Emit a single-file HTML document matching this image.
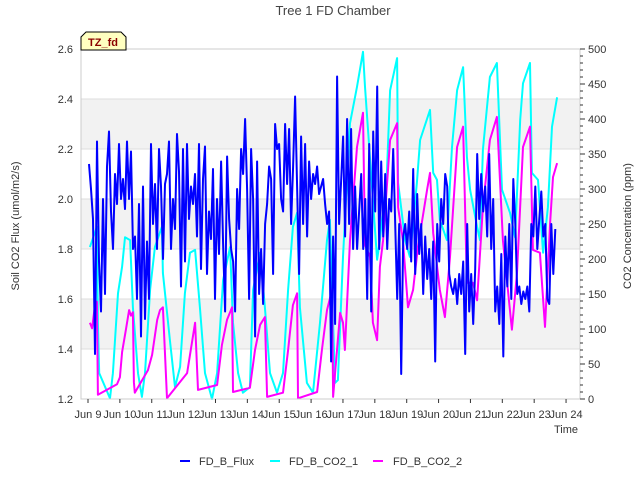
<!DOCTYPE html>
<html><head><meta charset="utf-8">
<style>
html,body{margin:0;padding:0;background:#fff;}
svg{display:block;font-family:"Liberation Sans","DejaVu Sans",sans-serif;}
</style></head>
<body>
<svg id="chart" width="640" height="480" viewBox="0 0 640 480" xmlns="http://www.w3.org/2000/svg">
  <rect x="0" y="0" width="640" height="480" fill="#fff"/>
  <text x="333" y="15" text-anchor="middle" font-size="13" fill="#444">Tree 1 FD Chamber</text>
  <g id="bands"></g>
  <g id="grid"></g>
  <g id="series"></g>
  <rect x="81" y="49" width="499" height="350" fill="none" stroke="#ccc" stroke-width="1"/>
  <g id="axes"></g>
  <text transform="translate(19,226) rotate(-90)" text-anchor="middle" font-size="11" fill="#333">Soil CO2 Flux (umol/m2/s)</text>
  <text transform="translate(631,226) rotate(-90)" text-anchor="middle" font-size="11" fill="#333">CO2 Concentration (ppm)</text>
  <text x="566" y="433" text-anchor="middle" font-size="11" fill="#333">Time</text>
  <g>
    <path d="M81,50 L81,37 L86,32 L121,32 L126,37 L126,50 Z" fill="#ffffc0" stroke="#000" stroke-width="1"/>
    <text x="103" y="46" text-anchor="middle" font-size="11" font-weight="bold" fill="#8b0000">TZ_fd</text>
  </g>
  <g>
    <g>
      <line x1="180" y1="461" x2="190" y2="461" stroke="#0000ff" stroke-width="2"/>
      <text x="199" y="465" font-size="11" fill="#333">FD_B_Flux</text>
    </g>
    <g>
      <line x1="270" y1="461" x2="280" y2="461" stroke="#00ffff" stroke-width="2"/>
      <text x="289" y="465" font-size="11" fill="#333">FD_B_CO2_1</text>
    </g>
    <g>
      <line x1="373" y1="461" x2="383" y2="461" stroke="#ff00ff" stroke-width="2"/>
      <text x="393" y="465" font-size="11" fill="#333">FD_B_CO2_2</text>
    </g>
  </g>
</svg>
<script>
// ---- data ----
const xTickLabels = ["Jun 9","Jun 10","Jun 11","Jun 12","Jun 13","Jun 14","Jun 15","Jun 16","Jun 17","Jun 18","Jun 19","Jun 20","Jun 21","Jun 22","Jun 23","Jun 24"];
const leftTicks = [1.2,1.4,1.6,1.8,2.0,2.2,2.4,2.6];
const leftTickLabels = ["1.2","1.4","1.6","1.8","2.0","2.2","2.4","2.6"];
const rightTicks = [0,50,100,150,200,250,300,350,400,450,500];
const bandRanges = [[2.2,2.4],[1.8,2.0],[1.4,1.6]];
const fluxStartDay = 0.03;
const fluxStepDay = 0.0628;
const fluxValues = [2.14,2.04,1.92,1.38,2.23,1.75,1.55,2.0,1.62,2.13,2.27,1.95,1.80,2.10,1.98,2.22,2.0,2.08,1.96,2.23,2.0,2.19,1.80,1.85,1.60,1.98,1.45,2.05,1.52,1.83,1.60,2.22,1.90,2.06,1.80,2.20,2.05,1.76,2.06,2.10,2.23,1.80,2.00,1.88,2.26,2.11,1.65,2.20,1.75,2.22,1.92,2.05,1.98,2.10,1.85,2.22,1.72,2.08,2.21,1.70,1.95,1.84,2.12,1.60,2.00,1.78,2.15,1.82,1.55,2.17,1.92,1.80,1.75,1.55,2.04,1.88,2.20,2.10,2.32,2.04,1.60,2.20,2.0,1.45,2.15,1.62,1.80,1.58,1.90,1.98,2.13,2.08,1.70,2.30,2.20,2.22,2.0,1.95,2.30,2.06,2.28,1.90,2.13,2.41,2.05,1.70,2.25,1.90,2.22,1.85,2.15,2.00,2.10,2.06,2.13,2.02,2.05,2.08,1.98,1.90,1.95,1.35,1.85,1.50,2.49,1.90,2.07,2.25,1.85,2.32,1.90,2.28,1.80,2.05,1.80,1.95,2.10,1.80,2.00,1.60,2.22,1.55,2.27,1.95,2.45,1.80,2.15,1.85,2.10,1.80,2.00,1.95,2.20,1.90,1.60,1.90,1.30,1.85,1.90,1.80,1.95,1.75,2.12,1.70,2.02,1.78,1.90,1.62,1.85,1.68,1.80,1.60,1.83,1.35,1.90,1.75,2.00,1.90,2.10,2.05,1.70,1.65,1.62,1.68,1.58,1.70,1.62,1.75,1.38,1.90,1.55,1.70,1.50,1.72,2.18,1.92,2.10,1.95,2.05,1.85,2.18,1.80,2.00,1.55,1.65,1.50,1.78,1.37,1.85,1.65,1.90,1.60,2.08,1.90,1.62,1.65,1.58,1.63,1.60,1.65,1.55,1.90,1.85,2.05,1.80,1.92,2.03,1.85,1.90,1.60,1.58,1.90,1.70,1.88];
const co2aDays = [0.06,0.28,0.31,0.35,0.69,0.78,0.94,1.07,1.16,1.32,1.41,1.57,1.69,1.79,1.95,2.10,2.32,2.35,2.57,2.73,2.89,3.04,3.20,3.36,3.51,3.67,3.89,4.05,4.24,4.46,4.55,4.71,4.86,5.08,5.18,5.40,5.55,5.71,5.93,6.12,6.28,6.43,6.56,6.65,6.87,7.06,7.28,7.50,7.59,7.75,7.84,8.00,8.22,8.44,8.63,8.69,9.07,9.16,9.38,9.48,9.70,9.73,9.95,10.10,10.32,10.42,10.73,10.83,10.95,11.04,11.26,11.42,11.58,11.77,11.89,11.99,12.21,12.30,12.39,12.61,12.83,12.99,13.24,13.40,13.56,13.65,13.87,13.93,14.12,14.28,14.43,14.56,14.72];
const co2aValues = [217,246,109,37,1,37,151,189,231,227,131,37,3,37,156,217,246,180,84,17,46,151,209,213,131,37,0,37,170,217,109,37,9,17,156,209,131,37,9,37,156,246,266,131,23,9,109,227,256,23,27,203,394,446,496,446,199,227,323,441,487,309,227,203,309,370,413,323,313,256,227,360,441,474,346,299,246,227,356,460,480,299,266,231,399,451,480,323,313,209,274,389,431];
const co2bDays = [0.06,0.13,0.22,0.28,0.31,0.91,1.00,1.07,1.19,1.29,1.35,1.41,1.44,1.47,1.88,2.01,2.17,2.26,2.35,2.48,3.11,3.36,3.45,4.05,4.20,4.36,4.52,4.55,5.08,5.24,5.40,5.55,5.62,6.12,6.28,6.43,6.56,6.59,7.19,7.34,7.50,7.66,7.69,7.91,8.00,8.06,8.22,8.44,8.63,8.69,8.85,8.94,9.07,9.16,9.26,9.48,9.70,9.73,9.88,10.04,10.20,10.35,10.64,10.73,10.83,11.04,11.20,11.36,11.58,11.77,11.89,12.08,12.21,12.39,12.61,12.83,12.93,13.02,13.30,13.46,13.65,13.87,13.96,14.18,14.34,14.50,14.59,14.72];
const co2bValues = [109,101,134,139,6,21,31,67,99,127,119,124,24,9,41,63,113,127,131,1,37,109,13,20,77,113,131,10,16,70,106,117,3,9,70,134,151,1,10,70,127,156,3,123,109,70,227,360,409,220,203,109,84,189,227,370,394,274,227,131,156,217,299,323,237,156,117,203,360,389,166,166,141,274,370,403,309,227,99,180,360,389,213,209,103,251,317,337];

// ---- axes ----
const PL=81, PR=580, PT=49, PB=399;
const X0=88, DAYPX=31.87;
function xScale(d){ return X0 + d*DAYPX; }
function yLeft(v){ return PB - (v-1.2)/(2.6-1.2)*(PB-PT); }
function yRight(v){ return PB - v/500*(PB-PT); }
const NS="http://www.w3.org/2000/svg";
function mk(tag, attrs, parent){
  const e=document.createElementNS(NS,tag);
  for(const k in attrs) e.setAttribute(k, attrs[k]);
  parent.appendChild(e); return e;
}
const bands=document.getElementById('bands');
bandRanges.forEach(r=>{
  const b=mk('rect',{x:PL,y:yLeft(r[1]),width:PR-PL,height:yLeft(r[0])-yLeft(r[1]),fill:'#f2f2f2'},bands);
  
  
});
const grid=document.getElementById('grid');
leftTicks.forEach(v=>{
  const l=mk('line',{x1:PL,x2:PR,y1:yLeft(v),y2:yLeft(v),stroke:'#ddd','stroke-width':1},grid);
  
  
});
const axes=document.getElementById('axes');
leftTicks.forEach((v,i)=>{
  const t=mk('text',{x:PL-8,y:yLeft(v)+4,'text-anchor':'end','font-size':11,fill:'#333'},axes);
  t.textContent=leftTickLabels[i];
  
  
});
for(let v=0; v<=500; v+=10){
  const major = rightTicks.indexOf(v)>=0;
  const l=mk('line',{x1:PR,x2:PR+(major?5:3),y1:yRight(v),y2:yRight(v),stroke:'#333','stroke-width':1},axes);
  
  
}
rightTicks.forEach(v=>{
  const t=mk('text',{x:PR+8,y:yRight(v)+4,'font-size':11,fill:'#333'},axes);
  t.textContent=String(v);
  
  
});
xTickLabels.forEach((lab,i)=>{
  const l=mk('line',{x1:xScale(i),x2:xScale(i),y1:PB,y2:PB+4,stroke:'#333','stroke-width':1},axes);
  
  
  const t=mk('text',{x:xScale(i),y:PB+19,'text-anchor':'middle','font-size':11,fill:'#333'},axes);
  t.textContent=lab;
  
  
});
// ---- series ----
const series=document.getElementById('series');
function pathFrom(xs, ys){
  return xs.map((x,i)=>(i?'L':'M')+x.toFixed(1)+','+ys[i].toFixed(1)).join(' ');
}
const pa=mk('path',{d:pathFrom(co2aDays.map(xScale), co2aValues.map(yRight)),fill:'none',stroke:'#00ffff','stroke-width':2,'stroke-linejoin':'round'},series);


const pb=mk('path',{d:pathFrom(co2bDays.map(xScale), co2bValues.map(yRight)),fill:'none',stroke:'#ff00ff','stroke-width':2,'stroke-linejoin':'round'},series);


const fluxDays = fluxValues.map((v,i)=>fluxStartDay + i*fluxStepDay);
const pf=mk('path',{d:pathFrom(fluxDays.map(xScale), fluxValues.map(yLeft)),fill:'none',stroke:'#0000ff','stroke-width':2,'stroke-linejoin':'round'},series);


</script>
</body></html>
